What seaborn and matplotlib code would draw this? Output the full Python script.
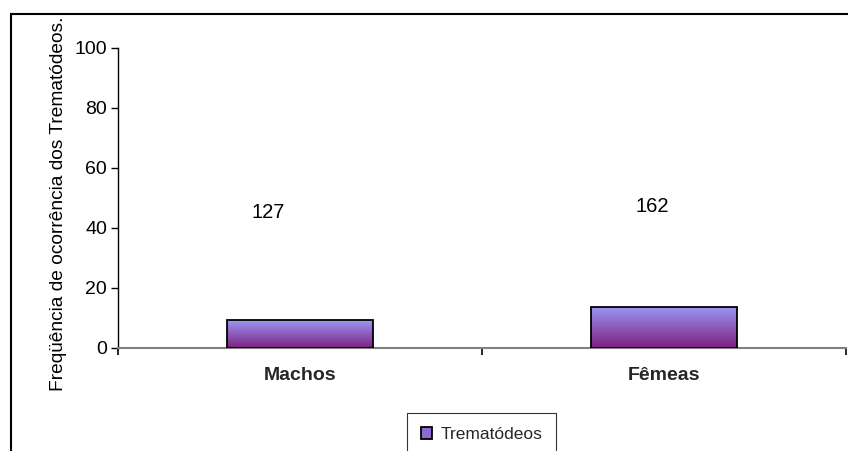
import numpy as np
import pandas as pd
import matplotlib
matplotlib.use("Agg")
import matplotlib.pyplot as plt
from matplotlib.patches import Rectangle, Patch
from matplotlib.colors import LinearSegmentedColormap
import seaborn as sns

# ---- data ----
categories = ["Machos", "Fêmeas"]
values = [9.3, 13.8]
count_labels = ["127", "162"]
series_name = "Trematódeos"
y_ticks = [0, 20, 40, 60, 80, 100]
y_label = "Freqüência de ocorrência dos Trematódeos."

# ---- layout (positions of annotation texts) ----
label_y = [45.2, 47.0]
label_dx = [-0.087, -0.033]

sns.set_style("white")
plt.rcParams["font.family"] = ["Liberation Sans", "DejaVu Sans"]

W, H, DPI = 848, 451, 100
fig = plt.figure(figsize=(W / DPI, H / DPI), dpi=DPI)
ax = fig.add_axes([118 / W, 1 - 348 / H, 728 / W, 300 / H])

df = pd.DataFrame({"cat": categories, "val": values})
sns.barplot(data=df, x="cat", y="val", ax=ax, width=0.4,
            color="#9999FF", edgecolor="black", linewidth=1.3, zorder=3)

# gradient fill inside each bar
cmap = LinearSegmentedColormap.from_list("g", ["#7E1F80", "#9A98F4"])
grad = np.linspace(0, 1, 256).reshape(-1, 1)
for p in list(ax.patches):
    x0, y0 = p.get_x(), p.get_y()
    w, h = p.get_width(), p.get_height()
    im = ax.imshow(grad, extent=(x0, x0 + w, y0, y0 + h), origin="lower",
                   cmap=cmap, aspect="auto", zorder=2.5, interpolation="bilinear")
    im.set_clip_path(p)
    p.set_facecolor("none")

for i, (lab, ly, dx) in enumerate(zip(count_labels, label_y, label_dx)):
    ax.text(i + dx, ly, lab, ha="center", va="center", fontsize=14.5, color="black")

ax.set_xlim(-0.5, 1.5)
ax.set_ylim(0, 100)
ax.set_yticks(y_ticks)
ax.set_xticks([0, 1])
ax.set_xticklabels(categories, fontsize=14, fontweight="bold")
ax.set_xticks([-0.5, 0.5, 1.5], minor=True)
ax.tick_params(axis="x", which="major", length=0, pad=14)
ax.tick_params(axis="x", which="minor", length=5, width=1.2, color="black",
               direction="out", bottom=True)
ax.tick_params(axis="y", length=5, width=1, color="black", direction="out",
               left=True, labelsize=14, pad=3, labelcolor="black")
ax.set_xlabel("")
ax.set_ylabel(y_label, fontsize=13.8, color="black")
ax.yaxis.set_label_coords(-0.070, 0.482)

for s in ["top", "right"]:
    ax.spines[s].set_visible(False)
ax.spines["left"].set_color("black")
ax.spines["left"].set_linewidth(1.0)
ax.spines["bottom"].set_color("#808080")
ax.spines["bottom"].set_linewidth(1.5)
ax.grid(False)

handle = Patch(facecolor="#8C6BD0", edgecolor="black", linewidth=1.3)
leg = fig.legend([handle], [series_name], loc="upper center",
                 bbox_to_anchor=(481.5 / W, 1 - 413 / H), frameon=True,
                 fancybox=False, edgecolor="black", fontsize=12.5,
                 handlelength=0.65, handleheight=0.65, handletextpad=0.5,
                 borderpad=0.8, borderaxespad=0)
leg.get_frame().set_linewidth(0.8)

# outer chart frame (partially visible)
fig.patches.append(Rectangle((10.5 / W, -0.2), 1.5, 1 - 13.5 / H + 0.2,
                             transform=fig.transFigure, fill=False,
                             edgecolor="black", linewidth=1.5, zorder=0))

fig.savefig("out.png", dpi=DPI)
